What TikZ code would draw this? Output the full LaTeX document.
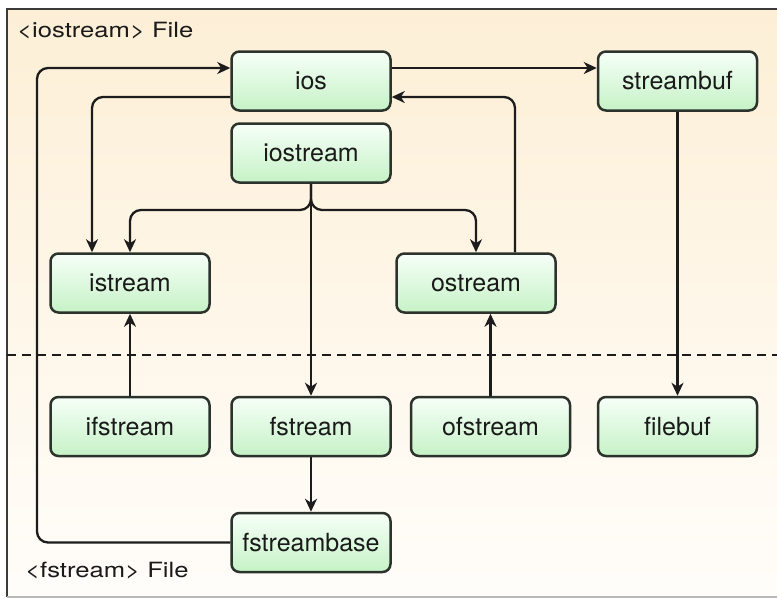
\documentclass[tikz,border=0pt]{standalone}
\usepackage{fontspec}
\setmainfont{TeX Gyre Heros}
\usetikzlibrary{arrows.meta}
\definecolor{bgtop}{HTML}{FDEFD6}
\definecolor{bgmid}{HTML}{FEF5E8}
\definecolor{bgbot}{HTML}{FFFDFA}
\definecolor{framec}{HTML}{3A3A3A}
\definecolor{boxline}{HTML}{2C332C}
\definecolor{boxtop}{HTML}{F6FFF8}
\definecolor{boxbot}{HTML}{C6F2C6}
\definecolor{txt}{HTML}{1A1A1A}
\definecolor{lnk}{HTML}{1C1C1C}
\begin{document}
\begin{tikzpicture}[x=1pt,y=-1pt,
  cls/.style={draw=boxline, line width=2.5pt, rounded corners=8pt,
    top color=boxtop, bottom color=boxbot,
    minimum width=159pt, minimum height=59pt, inner sep=0pt,
    text=txt, font=\fontsize{25}{29}\selectfont},
  link/.style={draw=lnk, line width=2.3pt, rounded corners=11pt,
    -{Stealth[length=13pt,width=12pt,inset=4pt]}},
  filelabel/.style={anchor=base west, inner sep=0pt, text=txt,
    font=\fontsize{21}{24}\selectfont},
  separator/.style={draw=lnk, line width=2.2pt, dash pattern=on 9pt off 6pt}]

\useasboundingbox (0,0) rectangle (777,598);
\fill[white] (0,0) rectangle (777,598);

% file area background and frame
\shade[top color=bgtop, middle color=bgmid, bottom color=bgbot] (7,9) rectangle (777,597);
\draw[framec, line width=2.4pt] (777,9) -- (7,9) -- (7,597);
\draw[black!28, line width=1.5pt] (7,597) -- (777,597);

% boundary between <iostream> and <fstream>
\coordinate (sepL) at (7,355);
\coordinate (sepR) at (777,355);
\draw[separator] (sepL) -- (sepR);

\node[filelabel] (lblio) at (17,37) {\scalebox{1.22}[1]{<iostream> File}};
\node[filelabel] (lblfs) at (25,577) {\scalebox{1.22}[1]{<fstream> File}};

% classes
\node[cls] (ios)       at (311,81)    {ios};
\node[cls] (iostream)  at (311,153)   {iostream};
\node[cls] (streambuf) at (677.5,81)  {streambuf};
\node[cls] (istream)   at (130,283)   {istream};
\node[cls] (ostream)   at (476,283)   {ostream};
\node[cls] (ifstream)  at (130,426.5) {ifstream};
\node[cls] (fstream)   at (311,426.5) {fstream};
\node[cls] (ofstream)  at (490.5,426.5) {ofstream};
\node[cls] (filebuf)   at (677.5,426.5) {filebuf};
\node[cls] (fsb)       at (311,542.5) {fstreambase};

% routing points
\coordinate (upper) at (37,68);
\coordinate (lower) at (92,97);
\coordinate (split) at (311,210);
\coordinate (orise) at (515,97);

% inheritance links
\draw[link] (fsb.west) -| (upper) -- (ios.west |- upper);
\draw[link] (ios.west |- lower) -| (lower |- istream.north);
\draw[link] (iostream.south) |- (istream.north |- split) -- (istream.north);
\draw[link] (iostream.south) |- (ostream.north |- split) -- (ostream.north);
\draw[link] (iostream.south) -- (fstream.north);
\draw[link] (orise |- ostream.north) |- (ios.east |- orise);
\draw[link] (ios.east |- upper) -- (streambuf.west |- upper);
\draw[link] (streambuf.south) -- (filebuf.north);
\draw[link] (ifstream.north) -- (istream.south);
\draw[link] (ofstream.north) -- (ofstream.north |- ostream.south);
\draw[link] (fstream.south) -- (fsb.north);
\end{tikzpicture}
\end{document}
